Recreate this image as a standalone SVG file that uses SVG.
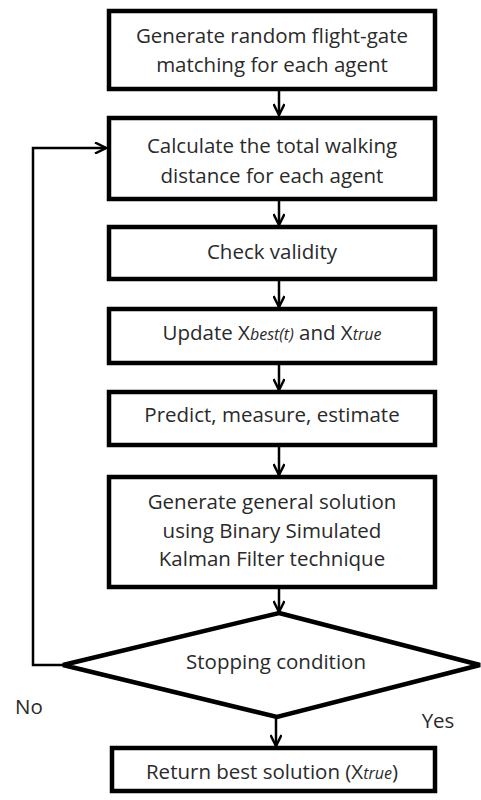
<svg xmlns="http://www.w3.org/2000/svg" width="481" height="800" viewBox="0 0 481 800">
<style>
.box{fill:#fff;stroke:#000;stroke-width:4.5}
.t{font-family:"Open Sans","Liberation Sans",Arial,sans-serif;font-size:20.5px;fill:#2a2a2a;text-anchor:middle}
.s{font-style:italic;font-size:16px}
.c{fill:none;stroke:#000;stroke-width:2.5}
</style>
<defs>
<marker id="ah" viewBox="0 0 14 12" markerWidth="14" markerHeight="12" refX="12" refY="6" orient="auto" markerUnits="userSpaceOnUse">
<path d="M1,0.5 L12,6 L1,11.5" fill="none" stroke="#000" stroke-width="2.5"/>
</marker>
</defs>
<g id="connectors">
<line class="c" x1="279" y1="91" x2="279" y2="115" marker-end="url(#ah)"/>
<line class="c" x1="279" y1="200" x2="279" y2="225" marker-end="url(#ah)"/>
<line class="c" x1="279" y1="281" x2="279" y2="307" marker-end="url(#ah)"/>
<line class="c" x1="279" y1="365" x2="279" y2="390" marker-end="url(#ah)"/>
<line class="c" x1="279" y1="447" x2="279" y2="475" marker-end="url(#ah)"/>
<line class="c" x1="279" y1="589" x2="279" y2="612" marker-end="url(#ah)"/>
<line class="c" x1="276" y1="717" x2="276" y2="746" marker-end="url(#ah)"/>
<polyline class="c" points="63,665 33,665 33,148 106,148" marker-end="url(#ah)"/>
</g>
<g id="n1"><rect class="box" x="109" y="11" width="326" height="78"/>
<text class="t" x="272" y="43">Generate random flight-gate</text>
<text class="t" x="272" y="72">matching for each agent</text></g>
<g id="n2"><rect class="box" x="109" y="118" width="326" height="81"/>
<text class="t" x="272" y="153">Calculate the total walking</text>
<text class="t" x="272" y="183">distance for each agent</text></g>
<g id="n3"><rect class="box" x="109" y="227" width="326" height="52"/>
<text class="t" x="272" y="259">Check validity</text></g>
<g id="n4"><rect class="box" x="109" y="309" width="326" height="54"/>
<text class="t" x="272" y="340">Update X<tspan class="s">best(t)</tspan> and X<tspan class="s">true</tspan></text></g>
<g id="n5"><rect class="box" x="109" y="392" width="326" height="53"/>
<text class="t" x="272" y="422">Predict, measure, estimate</text></g>
<g id="n6"><rect class="box" x="109" y="477" width="326" height="110"/>
<text class="t" x="272" y="509">Generate general solution</text>
<text class="t" x="272" y="538">using Binary Simulated</text>
<text class="t" x="272" y="566">Kalman Filter technique</text></g>
<g id="n7"><polygon class="box" points="279,613 480,665 277,717 63,665"/>
<text class="t" x="276" y="669">Stopping condition</text></g>
<g id="n8"><rect class="box" x="112" y="748" width="323" height="43"/>
<text class="t" x="272" y="779">Return best solution (X<tspan class="s">true</tspan>)</text></g>
<g id="labels">
<text class="t" x="29" y="714">No</text>
<text class="t" x="438" y="728">Yes</text>
</g>
</svg>
